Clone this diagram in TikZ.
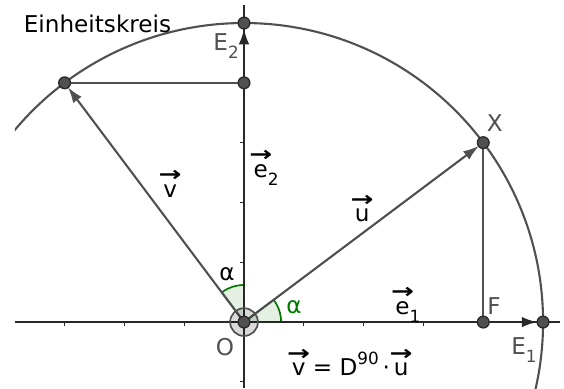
\documentclass[tikz,border=0pt]{standalone}
\usepackage{amsmath}
\usepackage{fontspec}
\setmainfont{DejaVu Sans}
\usepackage{tikz}
\usetikzlibrary{arrows.meta,calc}
\definecolor{ggdark}{RGB}{40,40,40}
\definecolor{gggray}{RGB}{80,80,80}
\definecolor{gggreen}{RGB}{0,120,0}
\definecolor{ggfill}{RGB}{228,240,228}
\newcommand{\vek}[1]{\begin{tabular}[b]{@{}c@{}}\makebox[0pt]{\scalebox{1.45}[1.1]{\fontsize{9}{9}\selectfont\bfseries →}}\\[-6.2pt]#1\end{tabular}}
\newcommand{\idx}[1]{\raisebox{-0.35em}{\footnotesize #1}}

\begin{document}
\begin{tikzpicture}[x=5cm,y=5cm,font=\fontsize{11}{13.6}\selectfont,
  pt/.style={circle,fill=gggray,draw=ggdark,line width=0.6pt,inner sep=0pt,minimum size=5.6pt},
  vekarrow/.style={line width=1pt,-{Latex[length=7.5pt,width=5pt]},shorten >=2.6pt},
  lab/.style={text=gggray},
  winkel/.style={draw=gggreen,fill=ggfill,line width=0.8pt}]
  \useasboundingbox (-0.816,-0.221) rectangle (1.070,1.077);
  \coordinate (O) at (0,0);
  \coordinate (E1) at (1,0);
  \coordinate (E2) at (0,1);
  \coordinate (X) at (0.8,0.6);
  \coordinate (F) at (0.8,0);
  \coordinate (V) at (-0.6,0.8);
  \coordinate (Vy) at (0,0.8);
  \coordinate (xl) at (-0.766,0);
  \coordinate (xr) at (1.057,0);
  \coordinate (yb) at (0,-0.221);
  \coordinate (yt) at (0,1.06);
  \filldraw[winkel] (O) -- ++(0.124,0) arc[start angle=0,end angle=36.87,radius=0.124] -- cycle;
  \filldraw[winkel] (O) -- ++(0,0.124) arc[start angle=90,end angle=126.87,radius=0.124] -- cycle;
  \draw[ggdark,line width=0.6pt] (xl) -- (xr);
  \draw[ggdark,line width=0.6pt] (yb) -- (yt);
  \foreach \k in {-3,...,5} {\ifnum\k=0 \else \draw[ggdark,line width=0.5pt] (0.2*\k,0) -- ++(0,-0.012); \fi}
  \foreach \k in {-1,...,5} {\ifnum\k=0 \else \draw[ggdark,line width=0.5pt] (0,0.2*\k) -- ++(-0.012,0); \fi}
  \begin{scope}
    \clip (xl) ++(0,-0.3) rectangle (1.06,1.2);
    \draw[gggray,line width=1pt] (O) circle[radius=1];
  \end{scope}
  \draw[gggray,line width=1pt] (X) -- (F);
  \draw[gggray,line width=1pt] (V) -- (Vy);
  \draw[vekarrow,gggray] (O) -- (X);
  \draw[vekarrow,gggray] (O) -- (V);
  \draw[vekarrow,ggdark,line width=1.2pt] (O) -- (E1);
  \draw[vekarrow,ggdark,line width=1.2pt] (O) -- (E2);
  \foreach \p in {E1,E2,X,F,V,Vy} {\node[pt] at (\p) {};}
  \fill[black,fill opacity=0.15] (O) circle (6.6pt);
  \draw[gggray,line width=0.8pt] (O) circle (6.6pt);
  \node[pt] at (O) {};
  \node (kreis) at (-0.490,0.997) {Einheitskreis};
  \node[lab] (lE2) at (-0.060,0.923) {E\idx{2}};
  \node[lab] (lE1) at (0.936,-0.094) {E\idx{1}};
  \node[lab] (lX) at (0.839,0.666) {X};
  \node[lab] (lF) at (0.836,0.054) {F};
  \node[lab] (lO) at (-0.064,-0.084) {O};
  \node (le2) at (0.074,0.530) {\vek{e}\idx{2}};
  \node (le1) at (0.548,0.071) {\vek{e}\idx{1}};
  \node (lv) at (-0.247,0.462) {\vek{v}};
  \node (lu) at (0.395,0.380) {\vek{u}};
  \node (la1) at (-0.057,0.161) {α};
  \node[text=gggreen] (la2) at (0.167,0.050) {α};
  \node (formel) at (0.355,-0.135) {\vek{v} = D\raisebox{0.5em}{\footnotesize 90}\,·\,\vek{u}};
\end{tikzpicture}
\end{document}
